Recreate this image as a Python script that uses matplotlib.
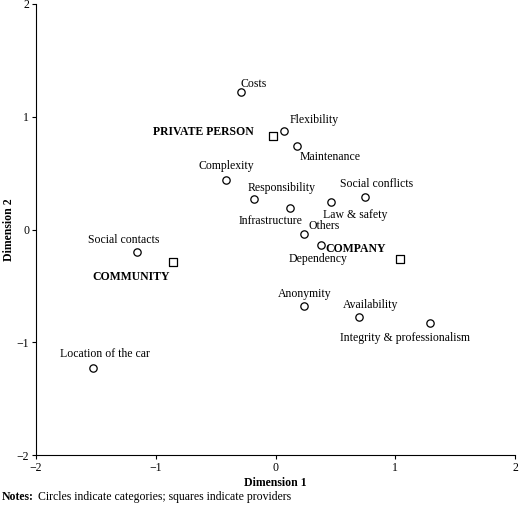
import matplotlib
matplotlib.use("Agg")
import matplotlib.pyplot as plt

plt.rcParams['font.family'] = ['Liberation Serif', 'DejaVu Serif']
FS = 8.5

cat_names = ["Costs", "Flexibility", "Maintenance", "Complexity", "Responsibility",
             "Infrastructure", "Law & safety", "Social conflicts", "Others", "Dependency",
             "Social contacts", "Anonymity", "Availability", "Integrity & professionalism",
             "Location of the car"]
cat_x = [-0.29, 0.07, 0.18, -0.41, -0.18, 0.12, 0.46, 0.75, 0.24, 0.38, -1.16, 0.24, 0.70, 1.29, -1.52]
cat_y = [1.22, 0.87, 0.74, 0.44, 0.27, 0.19, 0.24, 0.29, -0.04, -0.14, -0.20, -0.68, -0.78, -0.83, -1.23]
# label offsets in points (dx, dy, ha)
cat_off = [(9, 6, 'center'), (22, 8, 'center'), (24, -8, 'center'), (0, 10, 'center'),
           (20, 8, 'center'), (-14, -9, 'center'), (18, -9, 'center'), (8, 9, 'center'),
           (14, 6, 'center'), (-2, -10, 'center'), (-9, 9, 'center'), (0, 9, 'center'),
           (8, 9, 'center'), (-18, -11, 'center'), (8, 10, 'center')]

prov_names = ["PRIVATE PERSON", "COMPANY", "COMMUNITY"]
prov_x = [-0.02, 1.04, -0.86]
prov_y = [0.83, -0.26, -0.29]
prov_off = [(-50, 3, 'center'), (-32, 7, 'center'), (-30, -11, 'center')]

fig = plt.figure(figsize=(5.2, 5.09), dpi=100)
ax = fig.add_axes([36/520, 1-455/509, 479/520, 451/509])
ax.scatter(cat_x, cat_y, s=28, facecolors='white', edgecolors='black', linewidths=0.9, zorder=3)
ax.scatter(prov_x, prov_y, s=30, marker='s', facecolors='white', edgecolors='black', linewidths=0.9, zorder=3)
for n, x, y, (dx, dy, ha) in zip(cat_names, cat_x, cat_y, cat_off):
    ax.annotate(n, (x, y), xytext=(dx, dy), textcoords='offset points', ha=ha, va='center', fontsize=FS)
for n, x, y, (dx, dy, ha) in zip(prov_names, prov_x, prov_y, prov_off):
    ax.annotate(n, (x, y), xytext=(dx, dy), textcoords='offset points', ha=ha, va='center',
                fontsize=FS, fontweight='bold')
ax.set_xlim(-2, 2)
ax.set_ylim(-2, 2)
ax.set_xticks([-2, -1, 0, 1, 2])
ax.set_yticks([-2, -1, 0, 1, 2])
ax.tick_params(labelsize=FS, length=3, pad=2)
for s in ['top', 'right']:
    ax.spines[s].set_visible(False)
ax.set_xlabel("Dimension 1", fontsize=FS, fontweight='bold', labelpad=2)
ax.set_ylabel("Dimension 2", fontsize=FS, fontweight='bold', labelpad=1)
t = fig.text(2/520, 1-497/509, "Notes:", fontsize=FS, va='center', fontweight='bold')
fig.text(38/520, 1-497/509, "Circles indicate categories; squares indicate providers",
         fontsize=FS, va='center')
fig.savefig("out.png", dpi=100)
